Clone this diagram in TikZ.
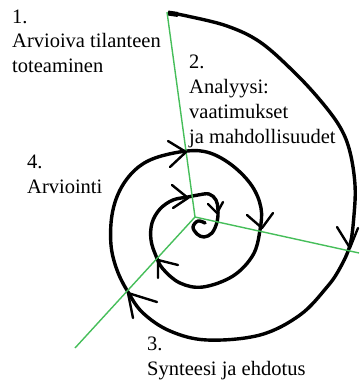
\documentclass[tikz,border=0pt]{standalone}
\usepackage{fontspec}
\IfFontExistsTF{LiberationSerif-Regular.ttf}{\setmainfont{LiberationSerif-Regular.ttf}}{\setmainfont{Liberation Serif}}
\definecolor{spokegreen}{RGB}{70,190,90}
\tikzset{
  spoke/.style={draw=spokegreen, line width=1.4pt},
  spiralline/.style={draw=black, line width=3.4pt, line cap=round, line join=round},
  chevron/.style={draw=black, line width=2.4pt, line cap=round, line join=round},
  lbl/.style={anchor=base west, inner sep=0pt, font=\rmfamily\fontsize{20.5}{24}\selectfont}
}
\begin{document}
\begin{tikzpicture}[x=1pt,y=-1pt]
\useasboundingbox (0,0) rectangle (359,383);
\coordinate (c) at (195,217);
\coordinate (e1) at (167,12);
\coordinate (e2) at (359,253);
\coordinate (e3) at (75,348);
% spiral
\draw[spiralline] plot[smooth, tension=0.6] coordinates {
 (170,13) (187,16) (227,26) (260,42) (293,71) (320,100) (340,127) (350,152)
 (355,185) (354,215) (350,245) (340,268) (327,287) (300,315) (260,335)
 (207,340) (170,331) (143,313) (128,292) (117,270) (111,245) (112,215)
 (120,190) (135,170) (155,158) (187,151) (210,153) (233,166) (252,186)
 (261,208) (260,230) (253,255) (233,276) (203,287) (180,283) (163,269)
 (156,256) (151,240) (152,223) (160,209) (173,200) (188,197) (198,195)
 (209,194) (216,200) (218,210) (217,222) (212,233) (204,237) (197,234)
 (193,227) (198,221) (205,223)};
\draw[line width=5pt] (168,13) -- (178,14.5);
% green spokes
\draw[spoke] (c) -- (e1);
\draw[spoke] (c) -- (e2);
\draw[spoke] (c) -- (e3);
% arrowheads
\draw[chevron] (168,141) -- (186,152) -- (170,167);
\draw[chevron] (337,227) -- (350,248) -- (358,228);
\draw[chevron] (157,302) -- (128,293) -- (133,318);
\draw[chevron] (247,215) -- (262,228) -- (273,213);
\draw[chevron] (178,265) -- (158,260) -- (158,278);
\draw[chevron] (172,185) -- (188,198) -- (173,208);
\draw[chevron] (208,204) -- (217,213) -- (223,202);
% labels
\node[lbl] (t1a) at (12,23) {1.};
\node[lbl] (t1b) at (12,47) {Arvioiva tilanteen};
\node[lbl] (t1c) at (12,72) {toteaminen};
\node[lbl] (t2a) at (189,68) {2.};
\node[lbl] (t2b) at (189,93) {Analyysi:};
\node[lbl] (t2c) at (189,118) {vaatimukset};
\node[lbl] (t2d) at (189,143) {ja mahdollisuudet};
\node[lbl] (t4a) at (27,168) {4.};
\node[lbl] (t4b) at (27,193) {Arviointi};
\node[lbl] (t3a) at (147,350) {3.};
\node[lbl] (t3b) at (147,375) {Synteesi ja ehdotus};
\end{tikzpicture}
\end{document}
